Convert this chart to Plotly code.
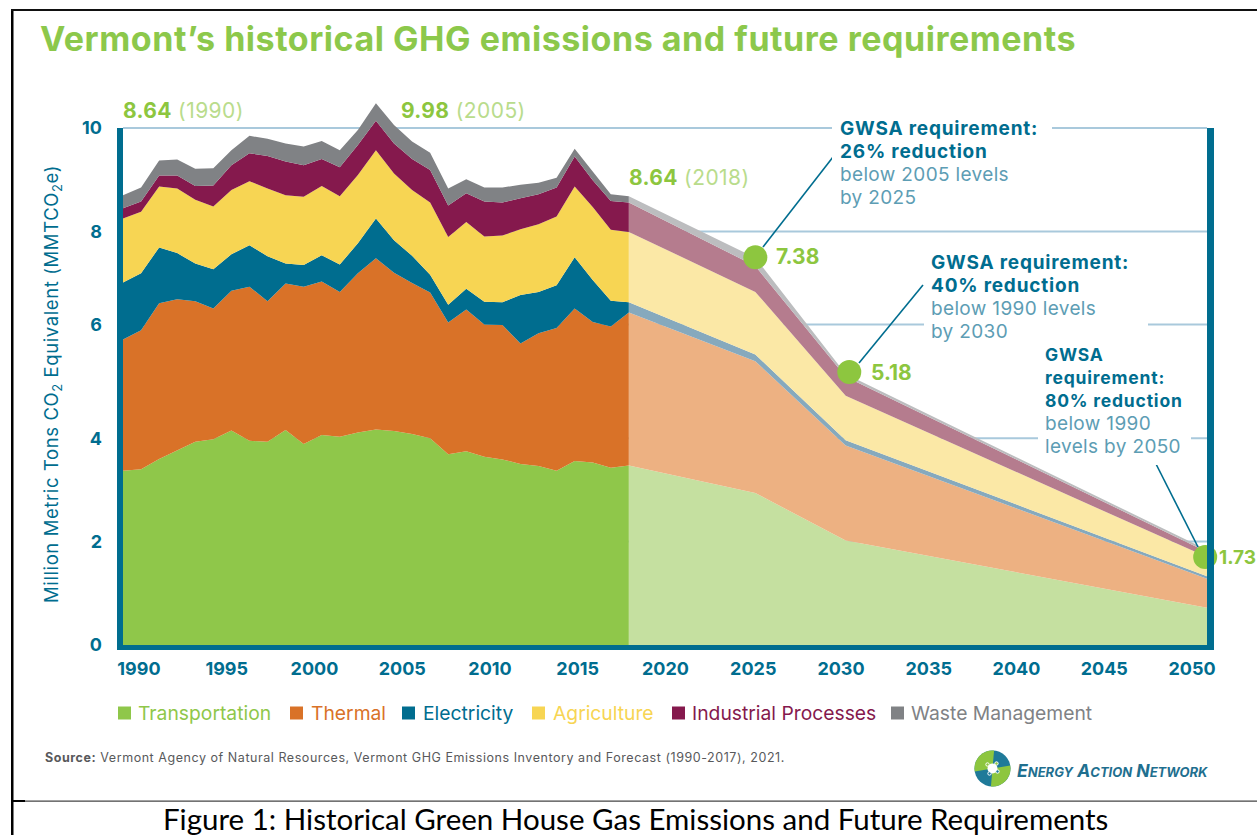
import math
import plotly.graph_objects as go

W, H = 1257, 835
TEAL = "#006d8f"; GREEN = "#8dc63f"; LIGHTGREEN = "#b9dc8c"; SOFTTEAL = "#5d9db4"
GRID = "#a9c9dc"
FONT = "Inter"

hist_years = list(range(1990, 2019))
transportation_top = [3.37,3.40,3.60,3.77,3.93,3.98,4.15,3.95,3.93,4.16,3.89,4.06,4.03,4.11,4.17,4.14,4.08,4.00,3.69,3.75,3.64,3.59,3.50,3.46,3.37,3.56,3.53,3.43,3.47]
thermal_top = [5.91,6.09,6.61,6.69,6.65,6.51,6.85,6.93,6.65,6.99,6.93,7.03,6.83,7.19,7.48,7.20,7.00,6.82,6.24,6.49,6.20,6.19,5.83,6.03,6.13,6.51,6.25,6.16,6.43]
electricity_top = [7.01,7.19,7.69,7.58,7.38,7.27,7.56,7.73,7.52,7.38,7.35,7.54,7.36,7.77,8.25,7.83,7.53,7.16,6.58,6.89,6.64,6.63,6.77,6.83,6.96,7.50,7.06,6.66,6.63]
agriculture_top = [8.25,8.38,8.87,8.83,8.61,8.48,8.80,8.97,8.83,8.70,8.67,8.88,8.68,9.09,9.57,9.12,8.80,8.56,7.89,8.18,7.90,7.92,8.04,8.14,8.29,8.87,8.47,8.03,7.99]
industrial_top = [8.45,8.58,9.08,9.08,8.88,8.89,9.28,9.51,9.46,9.35,9.28,9.40,9.24,9.67,10.14,9.70,9.40,9.19,8.50,8.74,8.58,8.56,8.64,8.72,8.85,9.45,8.99,8.59,8.56]
waste_top = [8.70,8.85,9.37,9.39,9.21,9.22,9.57,9.85,9.79,9.70,9.64,9.75,9.57,9.96,10.48,10.06,9.74,9.52,8.83,9.01,8.85,8.85,8.90,8.94,9.04,9.60,9.16,8.72,8.68]

future_years = [2018, 2025, 2030, 2050]
transportation_future = [3.47,2.94,2.02,0.72]
thermal_future = [6.43,5.49,3.86,1.28]
electricity_future = [6.63,5.62,3.96,1.33]
agriculture_future = [7.99,6.83,4.82,1.70]
industrial_future = [8.56,7.33,5.19,1.80]
waste_future = [8.68,7.49,5.24,1.84]

target_years = [2025, 2030.2, 2049.9]
target_marks = [7.50, 5.28, 1.70]
target_labels = ["7.38", "5.18", "1.73"]

sector_names = ["Transportation", "Thermal", "Electricity", "Agriculture", "Industrial Processes", "Waste Management"]
sector_colors = ["#8fc74a", "#d97228", "#006d8f", "#f7d553", "#85194d", "#808285"]
future_colors = ["#c5e0a0", "#edb182", "#86a9bd", "#fbe8a6", "#b57c8e", "#bcbdbf"]

y_ticks = [0, 2, 4, 6.2, 8, 10]
y_tick_text = ["0", "2", "4", "6", "8", "10"]
grid_values = [10, 8, 6.2, 4, 2]

hist_tops = [transportation_top, thermal_top, electricity_top, agriculture_top, industrial_top, waste_top]
future_tops = [transportation_future, thermal_future, electricity_future, agriculture_future, industrial_future, waste_future]

def px(x): return x / W
def py(y): return 1 - y / H

fig = go.Figure()
for tops, xs, cols in ((hist_tops, hist_years, sector_colors), (future_tops, future_years, future_colors)):
    for i, (vals, col) in enumerate(zip(tops, cols)):
        fig.add_trace(go.Scatter(x=xs, y=vals, mode="lines", line=dict(width=0, color=col),
                                 fill="tozeroy" if i == 0 else "tonexty", fillcolor=col,
                                 name=sector_names[i], showlegend=False, hoverinfo="skip"))

fig.add_trace(go.Scatter(x=target_years, y=target_marks, mode="markers", cliponaxis=False,
                         marker=dict(size=24, color=GREEN), showlegend=False, hoverinfo="skip"))
fig.add_trace(go.Scatter(x=[2000], y=[None], xaxis="x2", showlegend=False, hoverinfo="skip"))

shapes = []
for v in grid_values:
    shapes.append(dict(type="line", layer="below", xref="paper", yref="y", x0=px(123), x1=px(1207), y0=v, y1=v,
                       line=dict(color=GRID, width=2)))
def rect(x0, y0, x1, y1, col):
    return dict(type="rect", xref="paper", yref="paper", x0=px(x0), x1=px(x1), y0=py(y0), y1=py(y1),
                fillcolor=col, line=dict(width=0))
shapes += [rect(117, 128, 123, 650, TEAL), rect(1207, 128, 1214, 650, TEAL), rect(117, 645, 1214, 650, TEAL)]
for (x0, y0, x1, y1) in [(833, 157, 763, 247), (923, 285, 859, 363), (1154, 460, 1198, 547)]:
    shapes.append(dict(type="line", xref="paper", yref="paper", x0=px(x0), x1=px(x1), y0=py(y0), y1=py(y1),
                       line=dict(color=TEAL, width=1.6)))
# page frame
shapes += [rect(11, 9, 13.5, 835, "#000000"), rect(11, 9, 1257, 11, "#111111"),
           rect(13, 800.5, 1257, 801.8, "#444444"), rect(13, 800, 25, 802, "#000000")]
# legend swatches
legend_x = [118, 290, 402, 532, 672, 891]
legend_text_x = [138, 311, 423, 553, 692, 911]
for x, c in zip(legend_x, sector_colors):
    shapes.append(rect(x, 706.5, x + 13, 719.5, c))

# logo: teal disc, two green wedges, white hub
LX, LY, LR = 992.5, 768.5, 18
def poly(points, col):
    d = "M " + " L ".join(f"{px(a):.5f} {py(b):.5f}" for a, b in points) + " Z"
    return dict(type="path", xref="paper", yref="paper", path=d, fillcolor=col, line=dict(width=0))
def wedge(a0, a1, col):
    steps = [a0 + (a1 - a0) * k / 14 for k in range(15)]
    pts = [(LX + LR * math.cos(math.radians(a)), LY - LR * math.sin(math.radians(a))) for a in steps]
    return poly([(LX, LY)] + pts, col)
shapes.append(dict(type="circle", xref="paper", yref="paper", x0=px(LX - LR), x1=px(LX + LR), y0=py(LY + LR), y1=py(LY - LR),
                   fillcolor="#1f7a99", line=dict(width=0)))
shapes += [wedge(85, 190, GREEN), wedge(265, 370, GREEN)]
shapes.append(dict(type="circle", xref="paper", yref="paper", x0=px(LX - 5), x1=px(LX + 5), y0=py(LY + 5), y1=py(LY - 5),
                   fillcolor="white", line=dict(width=0)))
for dx, dy, c in [(-5, -4, GREEN), (4, -5, GREEN), (-3, 5, "#1f7a99"), (5, 3, "#1f7a99")]:
    shapes.append(dict(type="circle", xref="paper", yref="paper", x0=px(LX + dx - 1.7), x1=px(LX + dx + 1.7),
                       y0=py(LY + dy + 1.7), y1=py(LY + dy - 1.7), fillcolor=c, line=dict(width=1, color="white")))

ann = []
def text(x, y, s, size, color, xanchor="left", yanchor="middle", family=FONT, borderpad=0, **kw):
    ann.append(dict(xref="paper", yref="paper", x=px(x), y=py(y), text=s, showarrow=False, xanchor=xanchor, yanchor=yanchor,
                    font=dict(family=family, size=size, color=color), align="left", borderpad=borderpad, borderwidth=0, **kw))
def sp(s, ls, size=None, color=None):
    st = f"letter-spacing:{ls}px;"
    if size: st += f"font-size:{size}px;"
    if color: st += f"fill:{color};"
    return f"<span style='{st}'>{s}</span>"

text(40, 38.5, "<b>" + sp("Vermont’s historical GHG emissions and future requirements", 0.53) + "</b>", 34, "#8cc84b")
for x, y, a, b in [(123, 111, "8.64", "(1990)"), (401, 111, "9.98", "(2005)"), (629, 177, "8.64", "(2018)")]:
    text(x, y, f"<b>{sp(a, 0.3)}</b>{sp(' ' + b, 0.45, color=LIGHTGREEN)}", 21, GREEN)
for (x, y), s, size in zip([(776, 257), (871, 372), (1219, 557)], target_labels, [21, 21, 19]):
    text(x, y, f"<b>{s}</b>", size, GREEN)

def block(x, ytop, lines_bold, lines_light, width, pad=7, bold_size=19):
    s = "<br>".join("<b>" + sp(l, 0.8, bold_size) + "</b>" for l in lines_bold) + "<br>" + "<br>".join(sp(l, 0.35, 19, SOFTTEAL) for l in lines_light)
    text(x, ytop, s, 17.7, TEAL, yanchor="top", bgcolor="white", borderpad=pad, width=width)
block(832, 109, ["GWSA requirement:", "26% reduction"], ["below 2005 levels", "by 2025"], 204, 8)
block(924, 244, ["GWSA requirement:", "40% reduction"], ["below 1990 levels", "by 2030"], 210)
block(1038, 337, ["GWSA", "requirement:", "80% reduction"], ["below 1990", "levels by 2050"], 139, 7, 17.5)

for x, name, c in zip(legend_text_x, sector_names, sector_colors):
    text(x, 713, name, 19.3, c)
text(45, 757, "<b>" + sp("Source:", 0.55) + "</b>" + sp(" Vermont Agency of Natural Resources, Vermont GHG Emissions Inventory and Forecast (1990-2017), 2021.", 0.55), 12.5, "#58595b")
def sc(w, lead=""):
    return f"<span style='font-size:17.5px'>{lead}{w[0]}</span>{w[1:]}"
text(1017, 770, "<b><i>" + sc("ENERGY") + sc("ACTION", " ") + sc("NETWORK", " ") + "</i></b>", 13, "#1f6f8f")
text(635, 818.5, "Figure 1: Historical Green House Gas Emissions and Future Requirements", 29.5, "#000000", xanchor="center", family="Lato")
text(53, 384, sp("Million Metric Tons CO<sub>2</sub> Equivalent (MMTCO<sub>2</sub>e)", 0.6), 18.5, TEAL, xanchor="center", textangle=-90)

y_top_val = (645 - 90) / 51.7
fig.update_layout(
    width=W, height=H, margin=dict(l=0, r=0, t=0, b=0, pad=0, autoexpand=False), autosize=False,
    paper_bgcolor="white", plot_bgcolor="white", showlegend=False,
    xaxis=dict(domain=[px(123), px(1207)], range=[1990, 2050], visible=False, fixedrange=True),
    xaxis2=dict(domain=[px(123), px(1207)], overlaying="x", anchor="y", side="bottom",
                range=[1989.09, 2050.855], tick0=1990, dtick=5, showgrid=False, zeroline=False, showline=False,
                ticks="", ticklabelstandoff=11, tickformat="d", fixedrange=True,
                tickfont=dict(family=FONT, size=18, color=TEAL, weight="bold")),
    yaxis=dict(domain=[py(645), py(90)], range=[0, y_top_val], tickvals=y_ticks, ticktext=y_tick_text,
               showgrid=False, zeroline=False, showline=False, ticks="", ticklabelstandoff=20, fixedrange=True,
               tickfont=dict(family=FONT, size=18, color=TEAL, weight="bold")),
    shapes=shapes, annotations=ann,
)
post = ("var s=document.createElement('style');"
        "s.textContent='html,body{margin:0!important;padding:0;width:1257px;height:835px;overflow:hidden}';"
        "document.head.appendChild(s);")
fig.write_html("out.html", config=dict(displayModeBar=False), post_script=post)
